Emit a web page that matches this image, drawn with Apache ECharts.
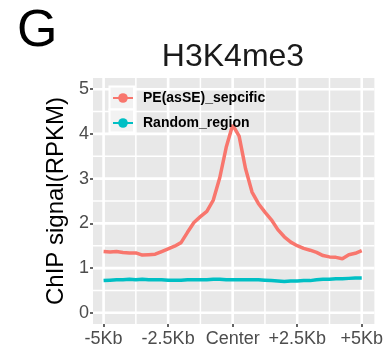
<!DOCTYPE html>
<html><head><meta charset="utf-8">
<script src="https://cdn.jsdelivr.net/npm/echarts@6/dist/echarts.min.js"></script>
<style>html,body{margin:0;padding:0;background:#fff}#c{width:386px;height:348px}</style>
</head><body><div id="c"></div>
<script>
// ---- data ----
const positionsKb = [-5,-4.75,-4.5,-4.25,-4,-3.75,-3.5,-3.25,-3,-2.75,-2.5,-2.25,-2,-1.75,-1.5,-1.25,-1,-0.75,-0.5,-0.25,0,0.25,0.5,0.75,1,1.25,1.5,1.75,2,2.25,2.5,2.75,3,3.25,3.5,3.75,4,4.25,4.5,4.75,5];
const peValues = [1.37,1.36,1.37,1.35,1.34,1.34,1.29,1.30,1.31,1.37,1.43,1.49,1.57,1.80,2.02,2.15,2.27,2.52,3.02,3.70,4.20,3.95,3.22,2.70,2.44,2.25,2.08,1.86,1.70,1.58,1.50,1.44,1.40,1.35,1.28,1.25,1.24,1.21,1.30,1.33,1.39];
const randomValues = [0.72,0.73,0.74,0.74,0.75,0.74,0.75,0.74,0.74,0.74,0.73,0.73,0.73,0.74,0.74,0.74,0.74,0.75,0.75,0.74,0.74,0.74,0.74,0.74,0.74,0.73,0.72,0.71,0.70,0.71,0.71,0.72,0.72,0.74,0.75,0.75,0.76,0.76,0.77,0.78,0.78];
const seriesNames = ['PE(asSE)_sepcific','Random_region'];
const xTickValues = [-5,-2.5,0,2.5,5];
const xTickLabels = ['-5Kb','-2.5Kb','Center','+2.5Kb','+5Kb'];
const xMinorValues = [-3.75,-1.25,1.25,3.75];
const yTickValues = [0,1,2,3,4,5];
const yMinorValues = [0.5,1.5,2.5,3.5,4.5];
const chartTitle = 'H3K4me3';
const panelLetter = 'G';
const yAxisTitle = 'ChIP signal(RPKM)';

// ---- chart ----
const FONT = 'Liberation Sans, Arial, Helvetica, sans-serif';
const colors = ['#F8766D','#00BFC4'];
const GRID_COLOR = '#FFFFFF';
const X_MIN = -5.41, X_MAX = 5.49, Y_MIN = -0.25, Y_MAX = 5.25;
const PANEL = {left:93, top:78, width:283, height:249};
const zip = (xs, ys) => xs.map((x,i)=>[x, ys[i]]);

function gridSeries(v, vertical, width, idx){
  return {type:'line', name:'grid'+idx, silent:true, z:3, showSymbol:false, symbol:'none', animation:false,
    data: vertical ? [[v, Y_MIN],[v, Y_MAX]] : [[X_MIN, v],[X_MAX, v]],
    itemStyle:{color:GRID_COLOR},
    lineStyle:{color:GRID_COLOR, width:width, opacity:1}, emphasis:{disabled:true}};
}
const gridLineSeries = [].concat(
  xMinorValues.map((v,i)=>gridSeries(v,true,1.5,'xm'+i)),
  yMinorValues.map((v,i)=>gridSeries(v,false,1.5,'ym'+i)),
  xTickValues.map((v,i)=>gridSeries(v,true,2.6,'xM'+i)),
  yTickValues.map((v,i)=>gridSeries(v,false,2.6,'yM'+i))
);

const chart = echarts.init(document.getElementById('c'), null, {renderer:'canvas'});
chart.setOption({
  animation:false,
  textStyle:{fontFamily:FONT},
  grid:Object.assign({show:true, backgroundColor:'#E8E8E8', borderWidth:0}, PANEL),
  xAxis:{
    type:'value', min:X_MIN, max:X_MAX,
    axisLine:{show:false, onZero:false},
    splitLine:{show:false},
    axisTick:{show:true, customValues:xTickValues, length:3, lineStyle:{color:'#333333', width:1.5}},
    axisLabel:{customValues:xTickValues, margin:6, fontSize:18, color:'#4D4D4D', fontFamily:FONT,
      formatter:(v)=>{const i=xTickValues.indexOf(v); return i>=0?xTickLabels[i]:'';}}
  },
  yAxis:{
    type:'value', min:Y_MIN, max:Y_MAX,
    name:yAxisTitle, nameLocation:'middle', nameGap:11,
    nameTextStyle:{fontSize:24, color:'#000', fontFamily:FONT},
    axisLine:{show:false, onZero:false},
    splitLine:{show:false},
    axisTick:{show:true, customValues:yTickValues, length:3, lineStyle:{color:'#333333', width:1.5}},
    axisLabel:{customValues:yTickValues, margin:4, fontSize:18, color:'#4D4D4D', fontFamily:FONT}
  },
  legend:{
    data:seriesNames, orient:'vertical', left:112, top:91, padding:0, z:10,
    itemWidth:20, itemHeight:12, itemGap:11,
    textStyle:{fontSize:14, fontWeight:'bold', color:'#000', fontFamily:FONT, padding:[0,0,0,5]}
  },
  graphic:{elements:[
    {type:'text', x:17, y:32, style:{text:panelLetter, fontSize:52, fontFamily:FONT, fill:'#000', textAlign:'left', textVerticalAlign:'middle'}},
    {type:'text', x:233, y:57, style:{text:chartTitle, fontSize:32, fontFamily:FONT, fill:'#1a1a1a', textAlign:'center', textVerticalAlign:'middle'}},
    {type:'rect', z:8, shape:{x:109.5, y:86.5, width:24.5, height:23}, style:{fill:'#F2F2F2', stroke:GRID_COLOR, lineWidth:2}},
    {type:'rect', z:8, shape:{x:109.5, y:109.5, width:24.5, height:23}, style:{fill:'#F2F2F2', stroke:GRID_COLOR, lineWidth:2}}
  ]},
  series: gridLineSeries.concat([
    {type:'line', name:seriesNames[0], data:zip(positionsKb, peValues), z:5,
     symbol:'circle', symbolSize:6, showSymbol:false, smooth:false,
     lineStyle:{color:colors[0], width:3.5}, itemStyle:{color:colors[0]}},
    {type:'line', name:seriesNames[1], data:zip(positionsKb, randomValues), z:5,
     symbol:'circle', symbolSize:6, showSymbol:false, smooth:false,
     lineStyle:{color:colors[1], width:3.5}, itemStyle:{color:colors[1]}}
  ])
});
</script></body></html>
